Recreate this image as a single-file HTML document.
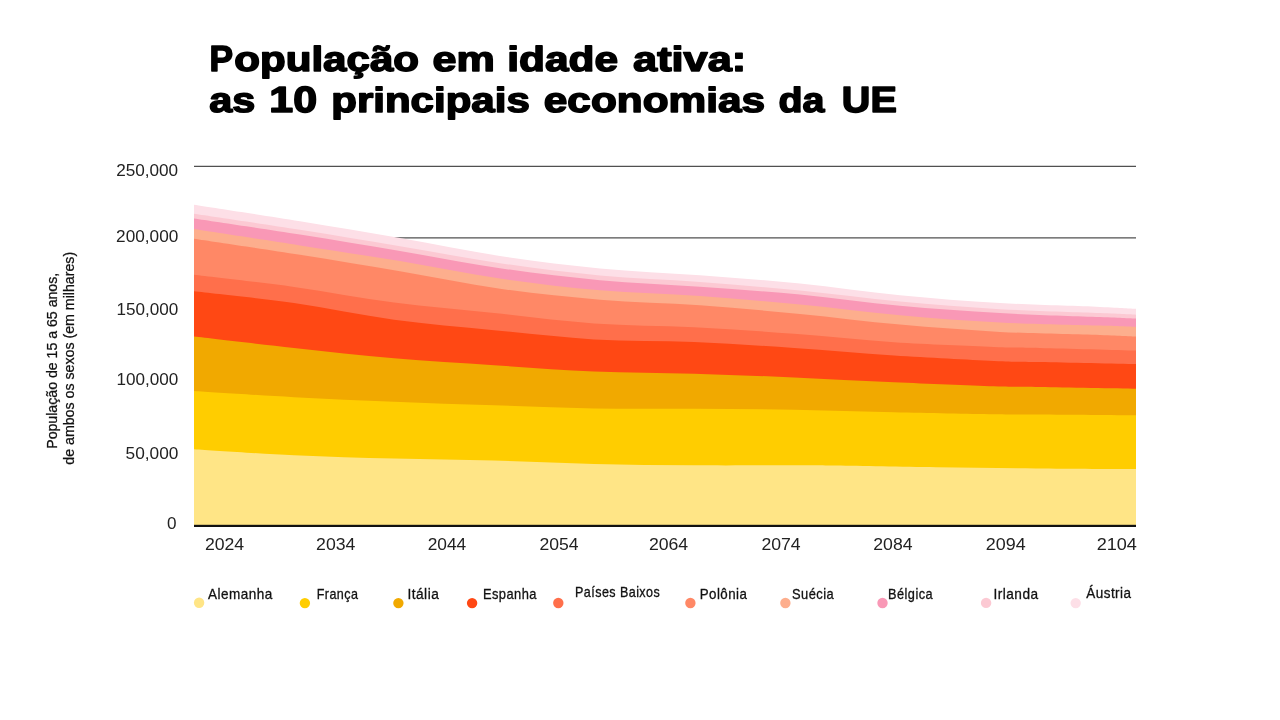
<!DOCTYPE html>
<html><head><meta charset="utf-8"><style>
html,body{margin:0;padding:0;background:#fff;width:1280px;height:720px;overflow:hidden}
svg{display:block;will-change:transform}
.t{text-rendering:geometricPrecision;font-family:"Liberation Sans",sans-serif;font-weight:bold;font-size:35px;fill:#000;stroke:#000;stroke-width:1.5px;stroke-linejoin:round}
.ax{font-family:"Liberation Sans",sans-serif;font-size:16px;fill:#222}
.lg{font-family:"Liberation Sans",sans-serif;font-size:14.4px;letter-spacing:0.5px;fill:#111;stroke:#111;stroke-width:0.3px}
.yt{font-family:"Liberation Sans",sans-serif;font-size:14.2px;fill:#111;stroke:#111;stroke-width:0.25px}
</style></head><body>
<svg width="1280" height="720" viewBox="0 0 1280 720">
<text transform="translate(209.39 71.2) scale(1.0091 1.038)" class="t">P</text>
<text transform="translate(234.2 71.2) scale(1.2033 1.0)" class="t">opulação</text>
<text transform="translate(432.52 71.2) scale(1.2302 1.0)" class="t">em</text>
<text transform="translate(507.28 71.2) scale(1.2112 1.0)" class="t">idade</text>
<text transform="translate(633.1 71.2) scale(1.236 1.0)" class="t">ativa:</text>
<text transform="translate(209.3 112.1) scale(1.1816 1.0)" class="t">as</text>
<text transform="translate(269.37 112.1) scale(1.227 1.038)" class="t">10</text>
<text transform="translate(331.2 112.1) scale(1.2012 1.0)" class="t">principais</text>
<text transform="translate(543.79 112.1) scale(1.2099 1.0)" class="t">economias</text>
<text transform="translate(778.58 112.1) scale(1.1244 1.0)" class="t">da</text>
<text transform="translate(841.87 112.1) scale(1.1298 1.038)" class="t">UE</text>
<line x1="194" y1="166.4" x2="1136" y2="166.4" stroke="#505050" stroke-width="1.1"/>
<line x1="194" y1="237.9" x2="1136" y2="237.9" stroke="#505050" stroke-width="1.1"/>
<path fill="#FDDFE7" d="M194 526.5L194 204.7C211.67 207.46 265.67 215.7 300 221.25C334.33 226.8 366.67 232.21 400 238C433.33 243.79 466.67 250.93 500 256C533.33 261.07 566.67 265.2 600 268.4C633.33 271.6 666.67 272.68 700 275.2C733.33 277.72 766.67 280.17 800 283.5C833.33 286.83 866.67 291.95 900 295.2C933.33 298.45 966.67 301.05 1000 303C1033.33 304.95 1077.33 305.94 1100 306.9C1122.67 307.86 1130 308.44 1136 308.75L1136 526.5Z"/>
<path fill="#FCC9D3" d="M194 526.5L194 213.75C211.67 216.43 265.67 224.38 300 229.8C334.33 235.22 366.67 240.68 400 246.25C433.33 251.82 466.67 258.32 500 263.2C533.33 268.07 566.67 272.37 600 275.5C633.33 278.63 666.67 279.5 700 282C733.33 284.5 766.67 287.25 800 290.5C833.33 293.75 866.67 298.38 900 301.5C933.33 304.62 966.67 307.27 1000 309.2C1033.33 311.13 1077.33 312.18 1100 313.1C1122.67 314.02 1130 314.43 1136 314.7L1136 526.5Z"/>
<path fill="#F998B6" d="M194 526.5L194 218.4C211.67 221.08 265.67 229.07 300 234.5C334.33 239.93 366.67 245.38 400 251C433.33 256.62 466.67 263.33 500 268.2C533.33 273.07 566.67 277.12 600 280.2C633.33 283.28 666.67 284.32 700 286.7C733.33 289.08 766.67 291.32 800 294.5C833.33 297.68 866.67 302.7 900 305.8C933.33 308.9 966.67 311.23 1000 313.1C1033.33 314.97 1077.33 316.08 1100 317C1122.67 317.92 1130 318.33 1136 318.6L1136 526.5Z"/>
<path fill="#FDAE8D" d="M194 526.5L194 229.1C211.67 231.83 265.67 240.17 300 245.5C334.33 250.83 366.67 255.58 400 261.1C433.33 266.62 466.67 273.73 500 278.6C533.33 283.47 566.67 287.4 600 290.3C633.33 293.2 666.67 293.63 700 296C733.33 298.37 766.67 301.3 800 304.5C833.33 307.7 866.67 312.2 900 315.2C933.33 318.2 966.67 320.77 1000 322.5C1033.33 324.23 1077.33 324.87 1100 325.6C1122.67 326.33 1130 326.68 1136 326.9L1136 526.5Z"/>
<path fill="#FF8866" d="M194 526.5L194 238.75C211.67 241.43 265.67 249.38 300 254.8C334.33 260.22 366.67 265.59 400 271.25C433.33 276.91 466.67 284.01 500 288.75C533.33 293.49 566.67 296.96 600 299.7C633.33 302.44 666.67 302.82 700 305.2C733.33 307.58 766.67 310.77 800 314C833.33 317.23 866.67 321.62 900 324.6C933.33 327.58 966.67 330.17 1000 331.9C1033.33 333.63 1077.33 334.22 1100 335C1122.67 335.78 1130 336.33 1136 336.6L1136 526.5Z"/>
<path fill="#FF6F4B" d="M194 526.5L194 274.7C210.67 276.73 260.67 282.25 294 286.9C327.33 291.55 360.67 298.25 394 302.6C427.33 306.95 460.67 309.53 494 313C527.33 316.47 560.67 321.03 594 323.4C627.33 325.77 660.67 325.48 694 327.2C727.33 328.92 760.67 331.2 794 333.7C827.33 336.2 860.67 340 894 342.2C927.33 344.4 969.67 345.93 994 346.9C1018.33 347.87 1016.33 347.38 1040 348C1063.67 348.62 1120 350.17 1136 350.6L1136 526.5Z"/>
<path fill="#FF4814" d="M194 526.5L194 291.25C210.67 293.21 260.67 298.26 294 303C327.33 307.74 360.67 315.17 394 319.7C427.33 324.23 460.67 326.92 494 330.2C527.33 333.48 560.67 337.43 594 339.4C627.33 341.37 660.67 340.57 694 342C727.33 343.43 760.67 345.75 794 348C827.33 350.25 860.67 353.35 894 355.5C927.33 357.65 969.67 359.82 994 360.9C1018.33 361.98 1016.33 361.47 1040 362C1063.67 362.53 1120 363.75 1136 364.1L1136 526.5Z"/>
<path fill="#F1A900" d="M194 526.5L194 336.6C210.67 338.5 260.67 344.38 294 348C327.33 351.62 360.67 355.43 394 358.3C427.33 361.17 460.67 363 494 365.2C527.33 367.4 560.67 370.08 594 371.5C627.33 372.92 660.67 372.72 694 373.7C727.33 374.68 760.67 375.98 794 377.4C827.33 378.82 860.67 380.72 894 382.2C927.33 383.68 969.67 385.5 994 386.3C1018.33 387.1 1016.33 386.6 1040 387C1063.67 387.4 1120 388.42 1136 388.7L1136 526.5Z"/>
<path fill="#FFCD00" d="M194 526.5L194 391C210.67 392.03 260.67 395.42 294 397.2C327.33 398.98 360.67 400.35 394 401.7C427.33 403.05 460.67 404.18 494 405.3C527.33 406.42 560.67 407.82 594 408.4C627.33 408.97 660.67 408.52 694 408.75C727.33 408.98 760.67 409.18 794 409.75C827.33 410.32 860.67 411.46 894 412.2C927.33 412.94 969.67 413.82 994 414.2C1018.33 414.58 1016.33 414.32 1040 414.5C1063.67 414.68 1120 415.17 1136 415.3L1136 526.5Z"/>
<path fill="#FFE586" d="M194 526.5L194 449.2C210.67 450.22 260.67 453.73 294 455.3C327.33 456.87 360.67 457.72 394 458.6C427.33 459.48 460.67 459.72 494 460.6C527.33 461.48 560.67 463.12 594 463.9C627.33 464.68 660.67 465.07 694 465.3C727.33 465.53 770.33 465.25 794 465.3C817.67 465.35 812.33 465.27 836 465.6C859.67 465.93 902.67 466.83 936 467.3C969.33 467.77 1002.67 468.1 1036 468.4C1069.33 468.7 1119.33 468.98 1136 469.1L1136 526.5Z"/>
<rect x="194" y="524.8" width="942" height="2.2" fill="#111"/>
<text transform="translate(116.13 175.7) scale(1.0732 1)" class="ax">250,000</text>
<text transform="translate(116.12 242.2) scale(1.075 1)" class="ax">200,000</text>
<text transform="translate(116.53 314.9) scale(1.0679 1)" class="ax">150,000</text>
<text transform="translate(116.53 385.3) scale(1.0679 1)" class="ax">100,000</text>
<text transform="translate(125.62 459.3) scale(1.0787 1)" class="ax">50,000</text>
<text transform="translate(167 528.5) scale(1.07 1)" class="ax">0</text>
<text transform="translate(204.9 549.6) scale(1.1029 1)" class="ax">2024</text>
<text transform="translate(316.1 549.6) scale(1.1029 1)" class="ax">2034</text>
<text transform="translate(427.67 549.6) scale(1.0838 1)" class="ax">2044</text>
<text transform="translate(539.5 549.6) scale(1.1 1)" class="ax">2054</text>
<text transform="translate(648.9 549.6) scale(1.1029 1)" class="ax">2064</text>
<text transform="translate(761.4 549.6) scale(1.1029 1)" class="ax">2074</text>
<text transform="translate(873.3 549.6) scale(1.1029 1)" class="ax">2084</text>
<text transform="translate(985.78 549.6) scale(1.1206 1)" class="ax">2094</text>
<text transform="translate(1096.67 549.6) scale(1.1309 1)" class="ax">2104</text>
<circle cx="199.1" cy="602.8" r="5.2" fill="#FFE586"/>
<text transform="translate(208.1 598.8) scale(0.9406 1)" class="lg">Alemanha</text>
<circle cx="304.9" cy="603.1" r="5.2" fill="#FFCD00"/>
<text transform="translate(316.73 598.9) scale(0.8723 1)" class="lg">França</text>
<circle cx="398.4" cy="603.1" r="5.2" fill="#F1A900"/>
<text transform="translate(407.45 598.9) scale(0.9531 1)" class="lg">Itália</text>
<circle cx="472.1" cy="603.1" r="5.2" fill="#FF4814"/>
<text transform="translate(482.9 598.8) scale(0.8958 1)" class="lg">Espanha</text>
<circle cx="558.3" cy="603" r="5.2" fill="#FF6F4B"/>
<text transform="translate(575.03 597.3) scale(0.8719 1)" class="lg">Países Baixos</text>
<circle cx="690.4" cy="603" r="5.2" fill="#FF8866"/>
<text transform="translate(699.67 598.5) scale(0.926 1)" class="lg">Polônia</text>
<circle cx="785.4" cy="603" r="5.2" fill="#FDAE8D"/>
<text transform="translate(792 598.6) scale(0.8957 1)" class="lg">Suécia</text>
<circle cx="882.5" cy="603" r="5.2" fill="#F998B6"/>
<text transform="translate(888.11 598.6) scale(0.886 1)" class="lg">Bélgica</text>
<circle cx="986.1" cy="602.9" r="5.2" fill="#FCC9D3"/>
<text transform="translate(993.45 598.7) scale(0.95 1)" class="lg">Irlanda</text>
<circle cx="1075.7" cy="603.1" r="5.2" fill="#FDDFE7"/>
<text transform="translate(1086.25 598.1) scale(0.9375 1)" class="lg">Áustria</text>
<text transform="translate(57.4 448.8) rotate(-90) scale(0.9966 1)" class="yt">População de 15 a 65 anos,</text>
<text transform="translate(74.3 464.7) rotate(-90) scale(0.9995 1)" class="yt">de ambos os sexos (em milhares)</text>
</svg>
</body></html>
